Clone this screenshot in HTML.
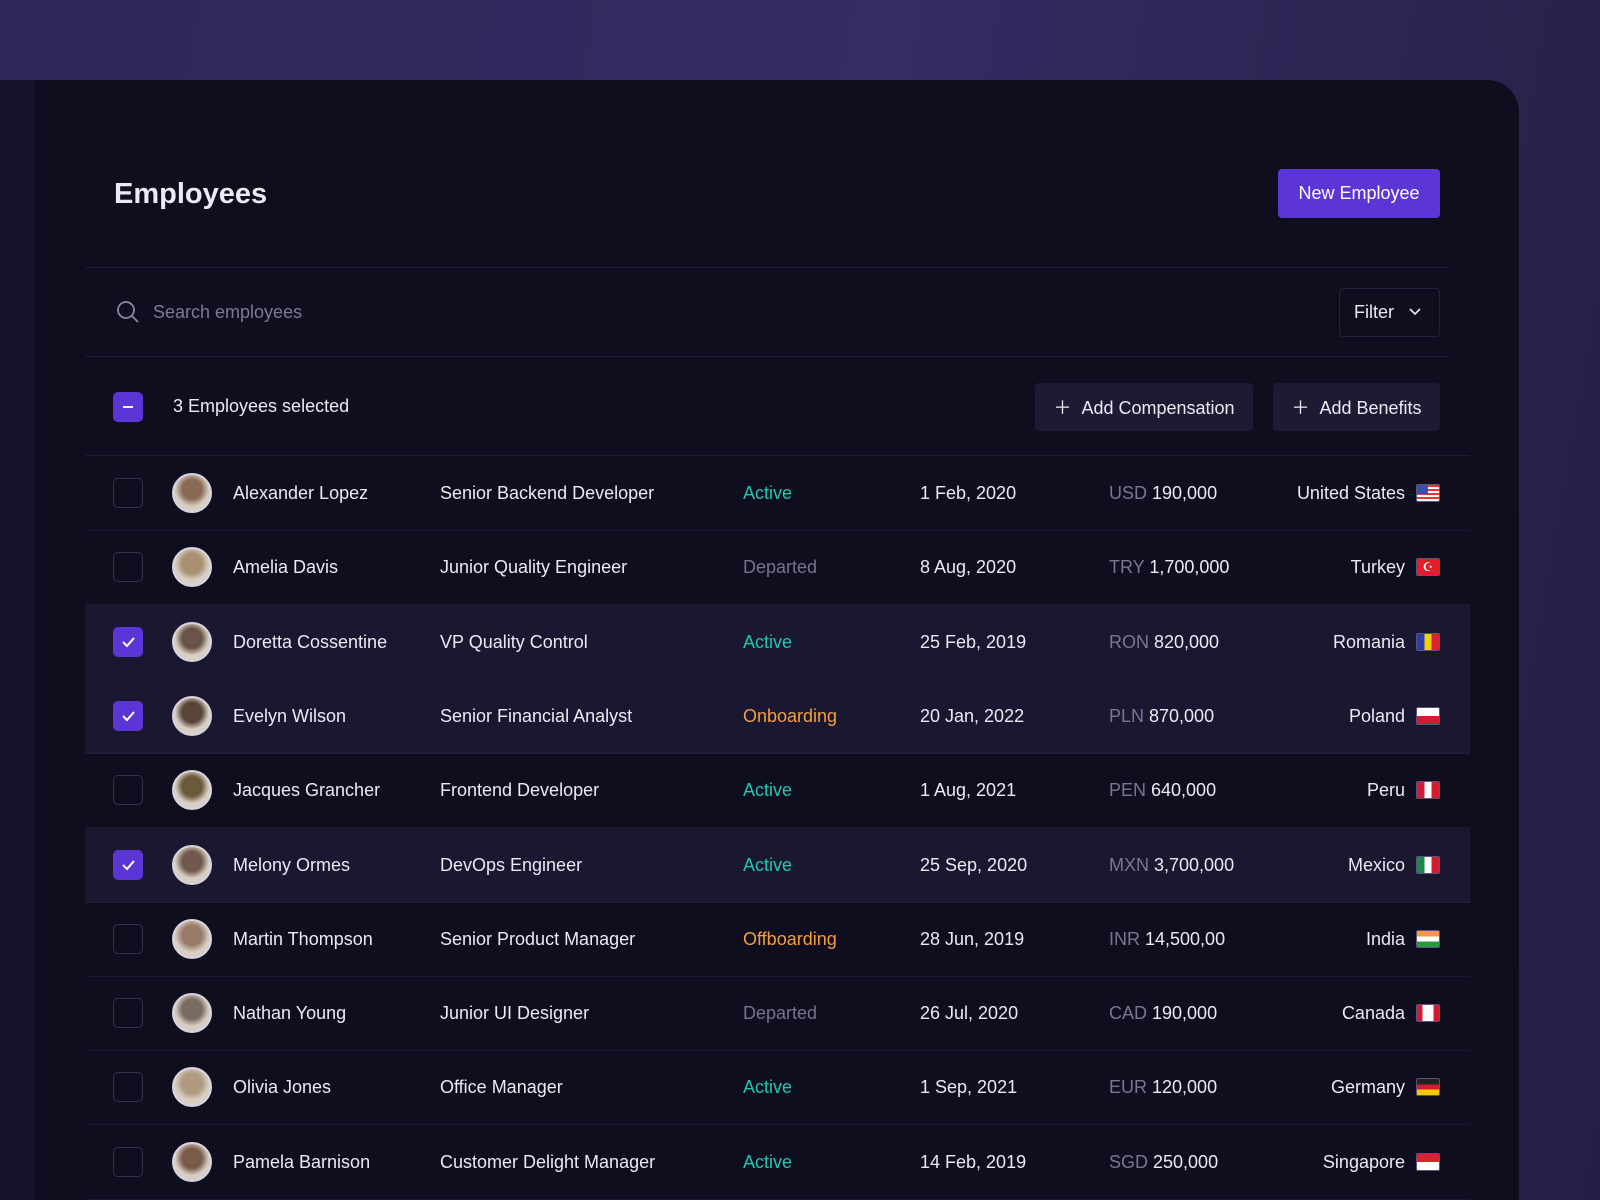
<!DOCTYPE html>
<html><head><meta charset="utf-8"><style>
*{margin:0;padding:0;box-sizing:border-box}
body{width:1600px;height:1200px;overflow:hidden;background:linear-gradient(100deg,#2e2858 0%,#342c62 50%,#241f45 100%);font-family:"Liberation Sans",sans-serif;color:#ebe9f3;position:relative}
.strip{position:absolute;left:0;top:80px;width:36px;height:1120px;background:#15132a}
.card{position:absolute;left:35px;top:80px;width:1484px;height:1120px;background:#0f0e1f;border-top-right-radius:32px}
.a{position:absolute}
.t{position:absolute;font-size:18px;line-height:20px;white-space:nowrap}
.hr{position:absolute;height:1px;background:#1f1c35}
.cb{position:absolute;width:30px;height:30px;border:1.5px solid #34304e;border-radius:5px}
.cb.on{background:#5b35d5;border:none}
.av{position:absolute;width:40px;height:40px;border-radius:50%;border:2px solid #d8d3e0}
.btn{position:absolute;background:#1d1a33;border-radius:4px;font-size:18px;display:flex;align-items:center;justify-content:center}
.flag{position:absolute;width:24px;height:18px;border:1px solid #5a557a;border-radius:2px;overflow:hidden}
</style></head><body>
<div class="strip"></div>
<div class="card"></div>
<div class="t" style="left:114px;top:178px;font-size:29px;line-height:32px;font-weight:bold">Employees</div>
<div class="btn" style="left:1278px;top:169px;width:162px;height:49px;background:#5b35d5;color:#fff">New Employee</div>
<div class="hr" style="left:85px;top:267px;width:1365px"></div>
<svg class="a" style="left:116px;top:300px" width="24" height="24"><circle cx="10" cy="10" r="8" stroke="#8a86a0" stroke-width="1.8" fill="none"/><line x1="16" y1="16" x2="22" y2="22" stroke="#8a86a0" stroke-width="1.8"/></svg>
<div class="t" style="left:153px;top:302px;color:#7d7994">Search employees</div>
<div class="a" style="left:1339px;top:288px;width:101px;height:49px;border:1px solid #24213b;border-radius:4px"></div>
<div class="t" style="left:1354px;top:302px">Filter</div>
<svg class="a" style="left:1408px;top:307px" width="14" height="10"><path d="M2 2 L7 7 L12 2" stroke="#ebe9f3" stroke-width="1.6" fill="none"/></svg>
<div class="hr" style="left:85px;top:356px;width:1365px"></div>
<div class="cb on" style="left:113px;top:392px"><div class="a" style="left:10px;top:14px;width:10px;height:2px;background:#fff"></div></div>
<div class="t" style="left:173px;top:396px">3 Employees selected</div>
<div class="btn" style="left:1035px;top:383px;width:218px;height:48px">＋&nbsp;&nbsp;Add Compensation</div>
<div class="btn" style="left:1273px;top:383px;width:167px;height:48px">＋&nbsp;&nbsp;Add Benefits</div>
<div class="hr" style="left:85px;top:455px;width:1385px"></div>
<div id="rows"></div>
<script>
const R=[
["Alexander Lopez","Senior Backend Developer","Active","1 Feb, 2020","USD","190,000","United States","us",0,"#8a6a55"],
["Amelia Davis","Junior Quality Engineer","Departed","8 Aug, 2020","TRY","1,700,000","Turkey","tr",0,"#a89070"],
["Doretta Cossentine","VP Quality Control","Active","25 Feb, 2019","RON","820,000","Romania","ro",1,"#6a5448"],
["Evelyn Wilson","Senior Financial Analyst","Onboarding","20 Jan, 2022","PLN","870,000","Poland","pl",1,"#5a4438"],
["Jacques Grancher","Frontend Developer","Active","1 Aug, 2021","PEN","640,000","Peru","pe",0,"#6b5a3a"],
["Melony Ormes","DevOps Engineer","Active","25 Sep, 2020","MXN","3,700,000","Mexico","mx",1,"#70584a"],
["Martin Thompson","Senior Product Manager","Offboarding","28 Jun, 2019","INR","14,500,00","India","in",0,"#9a7a68"],
["Nathan Young","Junior UI Designer","Departed","26 Jul, 2020","CAD","190,000","Canada","ca",0,"#7a6a60"],
["Olivia Jones","Office Manager","Active","1 Sep, 2021","EUR","120,000","Germany","de",0,"#b09a80"],
["Pamela Barnison","Customer Delight Manager","Active","14 Feb, 2019","SGD","250,000","Singapore","sg",0,"#7a5a48"]];
const SC={Active:"#1fc7b0",Departed:"#76728c",Onboarding:"#f59e3a",Offboarding:"#f59e3a"};
const F={us:'<div style="height:100%;background:repeating-linear-gradient(#e33 0 2px,#fff 2px 4px)"></div><div style="position:absolute;left:0;top:0;width:11px;height:9px;background:#3a4fb0"></div>',
tr:'<div style="height:100%;background:#e31d2a;color:#fff;font-size:12px;line-height:16px;text-align:center">☪</div>',
ro:'<div style="height:100%;background:linear-gradient(90deg,#2b3fa8 33%,#f5d000 33% 66%,#d9232e 66%)"></div>',
pl:'<div style="height:100%;background:linear-gradient(#fff 50%,#d21c33 50%)"></div>',
pe:'<div style="height:100%;background:linear-gradient(90deg,#d21c33 33%,#fff 33% 66%,#d21c33 66%)"></div>',
mx:'<div style="height:100%;background:linear-gradient(90deg,#1a8a4a 33%,#fff 33% 66%,#d21c33 66%)"></div>',
in:'<div style="height:100%;background:linear-gradient(#f59a30 33%,#fff 33% 66%,#2a9a40 66%)"></div>',
ca:'<div style="height:100%;background:linear-gradient(90deg,#d21c33 25%,#fff 25% 75%,#d21c33 75%)"></div>',
de:'<div style="height:100%;background:linear-gradient(#222 33%,#d21c33 33% 66%,#f5c800 66%)"></div>',
sg:'<div style="height:100%;background:linear-gradient(#e0202e 50%,#fff 50%)"></div>'};
let h='';
R.forEach((r,i)=>{const top=456+i*74.3,c=top+37;
if(r[8])h+=`<div class="a" style="left:85px;top:${top}px;width:1385px;height:74px;background:#1a1730"></div>`;
h+=`<div class="hr" style="left:85px;top:${top+74}px;width:1385px;background:${r[8]?'#211e3a':'#1a1830'}"></div>`;
h+=`<div class="cb ${r[8]?'on':''}" style="left:113px;top:${c-15}px">${r[8]?'<svg width="30" height="30"><path d="M10 15 L14 19 L21 11" stroke="#fff" stroke-width="2" fill="none"/></svg>':''}</div>`;
h+=`<div class="av" style="left:172px;top:${c-20}px;background:radial-gradient(circle at 50% 40%,${r[9]} 35%,#d8cfc4 60%)"></div>`;
h+=`<div class="t" style="left:233px;top:${c-10}px">${r[0]}</div>`;
h+=`<div class="t" style="left:440px;top:${c-10}px">${r[1]}</div>`;
h+=`<div class="t" style="left:743px;top:${c-10}px;color:${SC[r[2]]}">${r[2]}</div>`;
h+=`<div class="t" style="left:920px;top:${c-10}px">${r[3]}</div>`;
h+=`<div class="t" style="left:1109px;top:${c-10}px"><span style="color:#7a7690">${r[4]}</span> ${r[5]}</div>`;
h+=`<div class="t" style="right:195px;top:${c-10}px">${r[6]}</div>`;
h+=`<div class="flag" style="left:1416px;top:${c-9}px">${F[r[7]]}</div>`;
});
document.getElementById('rows').innerHTML=h;
</script>
</body></html>
